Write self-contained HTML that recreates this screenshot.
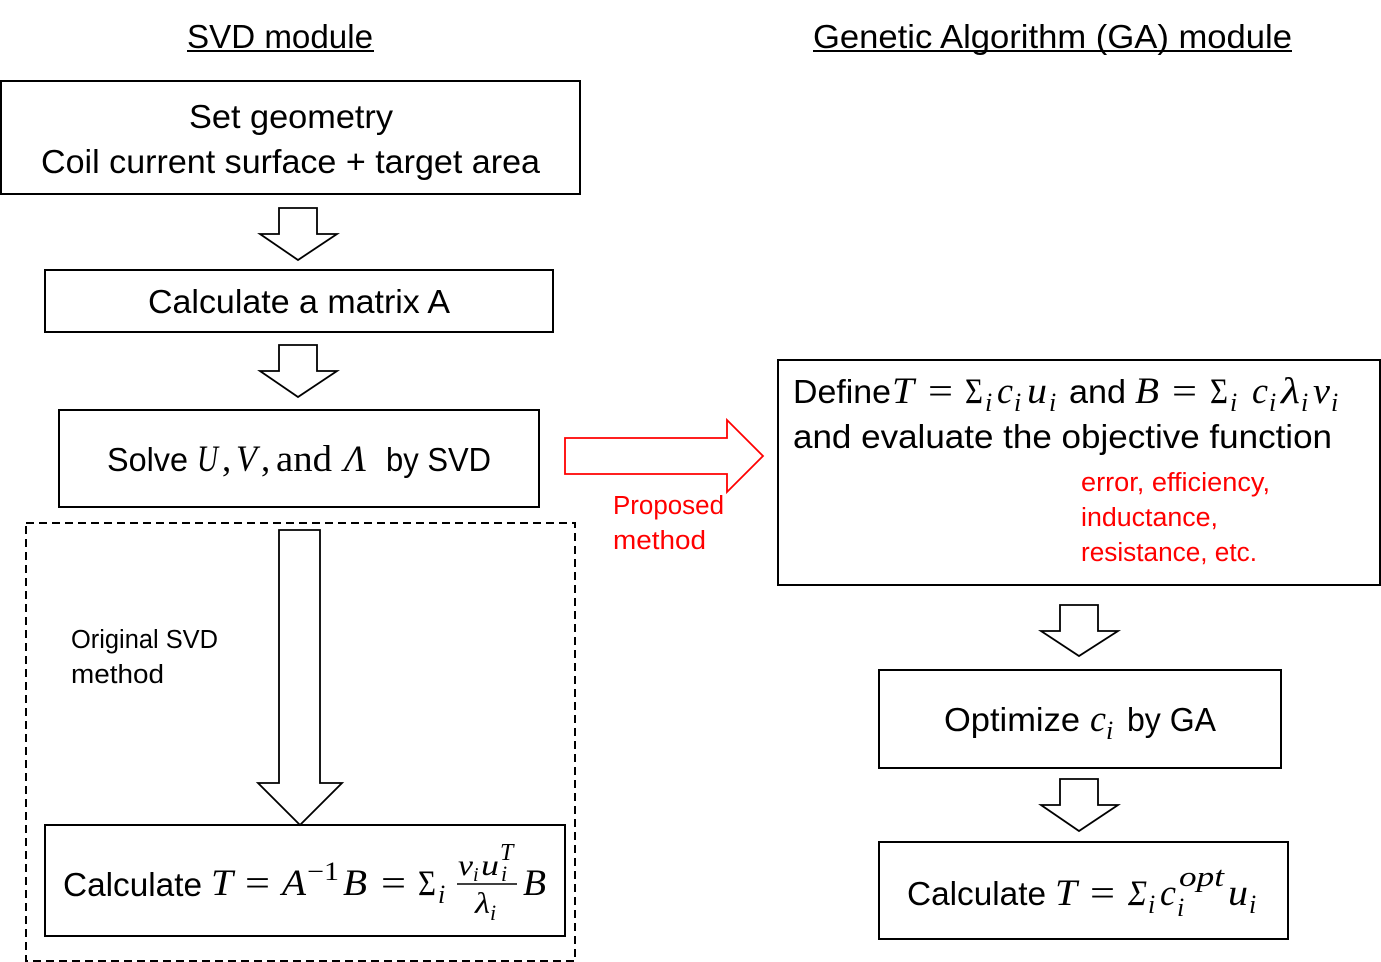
<!DOCTYPE html>
<html><head><meta charset="utf-8"><style>
html,body{margin:0;padding:0;background:#fff}
svg{display:block}
text{font-family:"Liberation Sans",sans-serif;fill:#000}
.t{font-size:33px}
.m{font-family:"Liberation Serif",serif;font-style:italic;font-size:37px}
.n{font-family:"Liberation Serif",serif;font-size:37px}
.s{font-family:"Liberation Serif",serif;font-style:italic;font-size:26px}
.f{font-family:"Liberation Serif",serif;font-style:italic;font-size:30px}
.r{font-size:25.5px;fill:#f00}
.k{font-size:25.5px}
.x{font-size:36px}
</style></head><body>
<svg width="1381" height="962" viewBox="0 0 1381 962" xmlns="http://www.w3.org/2000/svg">
<rect width="1381" height="962" fill="#fff"/>
<g fill="none" stroke="#000" stroke-width="2">
<rect x="1" y="81" width="579" height="113"/>
<rect x="45" y="270" width="508" height="62"/>
<rect x="59" y="410" width="480" height="97"/>
<rect x="26" y="523" width="549" height="438" stroke-dasharray="8 5"/>
<rect x="45" y="825" width="520" height="111"/>
<rect x="778" y="360" width="602" height="225"/>
<rect x="879" y="670" width="402" height="98"/>
<rect x="879" y="842" width="409" height="97"/>
</g>
<g fill="none" stroke="#000" stroke-width="1.8">
<path d="M279 208H317V234H337L298 260L260 234H279Z"/>
<path d="M279 345H317V371H337L298 397L260 371H279Z"/>
<path d="M279 530H320V783H342L300 825L258 783H279Z"/>
<path d="M1060 605H1098V631H1118L1079 656L1041 631H1060Z"/>
<path d="M1060 779H1098V805H1118L1079 831L1041 805H1060Z"/>
<path d="M565 438H727V420L763 456L727 492V474H565Z" stroke="#f00"/>
</g>
<path d="M187 51H374M813 51H1292" stroke="#000" stroke-width="2" fill="none"/>
<text class="t" x="187" y="48" textLength="186" lengthAdjust="spacingAndGlyphs">SVD module</text>
<text class="t" x="813" y="48" textLength="479" lengthAdjust="spacingAndGlyphs">Genetic Algorithm (GA) module</text>
<text class="t" x="189" y="128" textLength="204" lengthAdjust="spacingAndGlyphs">Set geometry</text>
<text class="t" x="41" y="173" textLength="499" lengthAdjust="spacingAndGlyphs">Coil current surface + target area</text>
<text class="t" x="148" y="313" textLength="302" lengthAdjust="spacingAndGlyphs">Calculate a matrix A</text>

<text class="t" x="107" y="471" textLength="81" lengthAdjust="spacingAndGlyphs">Solve</text>
<text class="m" x="197" y="471" textLength="21" lengthAdjust="spacingAndGlyphs">U</text>
<text class="n" x="222" y="471">,</text>
<text class="m" x="236" y="471" textLength="21" lengthAdjust="spacingAndGlyphs">V</text>
<text class="n" x="261" y="471">,</text>
<text class="n" x="276" y="471" textLength="56" lengthAdjust="spacingAndGlyphs">and</text>
<text class="m" x="344" y="471" textLength="22" lengthAdjust="spacingAndGlyphs">Λ</text>
<text class="t" x="386" y="471" textLength="105" lengthAdjust="spacingAndGlyphs">by SVD</text>

<text class="r" x="613" y="514" textLength="111" lengthAdjust="spacingAndGlyphs">Proposed</text>
<text class="r" x="613" y="549" textLength="93" lengthAdjust="spacingAndGlyphs">method</text>
<text class="k" x="71" y="648" textLength="147" lengthAdjust="spacingAndGlyphs">Original SVD</text>
<text class="k" x="71" y="683" textLength="93" lengthAdjust="spacingAndGlyphs">method</text>

<text class="t" x="63" y="896" textLength="139" lengthAdjust="spacingAndGlyphs">Calculate</text>
<text class="m" x="211" y="895" textLength="22" lengthAdjust="spacingAndGlyphs">T</text>
<text class="n" x="245" y="895" textLength="25" lengthAdjust="spacingAndGlyphs">=</text>
<text class="m" x="282" y="895" textLength="24" lengthAdjust="spacingAndGlyphs">A</text>
<text class="n" x="307" y="880" textLength="32" lengthAdjust="spacingAndGlyphs" style="font-size:26px">−1</text>
<text class="m" x="343" y="895" textLength="24" lengthAdjust="spacingAndGlyphs">B</text>
<text class="n x" x="418" y="895" textLength="18" lengthAdjust="spacingAndGlyphs">Σ</text>
<text class="n" x="381" y="895" textLength="25" lengthAdjust="spacingAndGlyphs">=</text>
<text class="s" x="438" y="903">i</text>
<path d="M457 884H517" stroke="#000" stroke-width="1.6"/>
<text class="f" x="458" y="875" textLength="15" lengthAdjust="spacingAndGlyphs">v</text>
<text class="s" x="473" y="881" style="font-size:20px">i</text>
<text class="f" x="481" y="875" textLength="18" lengthAdjust="spacingAndGlyphs">u</text>
<text class="s" x="500" y="860" style="font-size:24px">T</text>
<text class="s" x="501" y="881" style="font-size:22px">i</text>
<text class="f" x="475" y="913" textLength="15" lengthAdjust="spacingAndGlyphs">λ</text>
<text class="s" x="490" y="920" style="font-size:22px">i</text>
<text class="m" x="523" y="895" textLength="23" lengthAdjust="spacingAndGlyphs">B</text>

<text class="t" x="793" y="403" textLength="98" lengthAdjust="spacingAndGlyphs">Define</text>
<text class="m" x="892" y="403" textLength="22" lengthAdjust="spacingAndGlyphs">T</text>
<text class="n" x="928" y="403" textLength="25" lengthAdjust="spacingAndGlyphs">=</text>
<text class="n x" x="965" y="403" textLength="18" lengthAdjust="spacingAndGlyphs">Σ</text>
<text class="s" x="985" y="411">i</text>
<text class="m" x="997" y="403" textLength="16" lengthAdjust="spacingAndGlyphs">c</text>
<text class="s" x="1014" y="411">i</text>
<text class="m" x="1027" y="403" textLength="20" lengthAdjust="spacingAndGlyphs">u</text>
<text class="s" x="1049" y="411">i</text>
<text class="t" x="1069" y="403" textLength="57" lengthAdjust="spacingAndGlyphs">and</text>
<text class="m" x="1135" y="403" textLength="24" lengthAdjust="spacingAndGlyphs">B</text>
<text class="n" x="1172" y="403" textLength="25" lengthAdjust="spacingAndGlyphs">=</text>
<text class="n x" x="1210" y="403" textLength="18" lengthAdjust="spacingAndGlyphs">Σ</text>
<text class="s" x="1230" y="411">i</text>
<text class="m" x="1252" y="403" textLength="16" lengthAdjust="spacingAndGlyphs">c</text>
<text class="s" x="1269" y="411">i</text>
<text class="m" x="1281" y="403" textLength="19" lengthAdjust="spacingAndGlyphs">λ</text>
<text class="s" x="1301" y="411">i</text>
<text class="m" x="1313" y="403" textLength="17" lengthAdjust="spacingAndGlyphs">v</text>
<text class="s" x="1331" y="411">i</text>
<text class="t" x="793" y="448" textLength="539" lengthAdjust="spacingAndGlyphs">and evaluate the objective function</text>
<text class="r" x="1081" y="491" textLength="189" lengthAdjust="spacingAndGlyphs">error, efficiency,</text>
<text class="r" x="1081" y="526" textLength="137" lengthAdjust="spacingAndGlyphs">inductance,</text>
<text class="r" x="1081" y="561" textLength="176" lengthAdjust="spacingAndGlyphs">resistance, etc.</text>

<text class="t" x="944" y="731" textLength="136" lengthAdjust="spacingAndGlyphs">Optimize</text>
<text class="m" x="1090" y="731" textLength="16" lengthAdjust="spacingAndGlyphs">c</text>
<text class="s" x="1106" y="739">i</text>
<text class="t" x="1127" y="731" textLength="89" lengthAdjust="spacingAndGlyphs">by GA</text>

<text class="t" x="907" y="905" textLength="139" lengthAdjust="spacingAndGlyphs">Calculate</text>
<text class="m" x="1055" y="905" textLength="22" lengthAdjust="spacingAndGlyphs">T</text>
<text class="n" x="1090" y="905" textLength="25" lengthAdjust="spacingAndGlyphs">=</text>
<text class="m x" x="1128" y="905" textLength="19" lengthAdjust="spacingAndGlyphs">Σ</text>
<text class="s" x="1148" y="913">i</text>
<text class="m" x="1160" y="905" textLength="16" lengthAdjust="spacingAndGlyphs">c</text>
<text class="s" x="1179" y="886" textLength="45" lengthAdjust="spacingAndGlyphs" style="font-size:29px">opt</text>
<text class="s" x="1177" y="916">i</text>
<text class="m" x="1228" y="905" textLength="20" lengthAdjust="spacingAndGlyphs">u</text>
<text class="s" x="1249" y="913">i</text>
</svg>
</body></html>
